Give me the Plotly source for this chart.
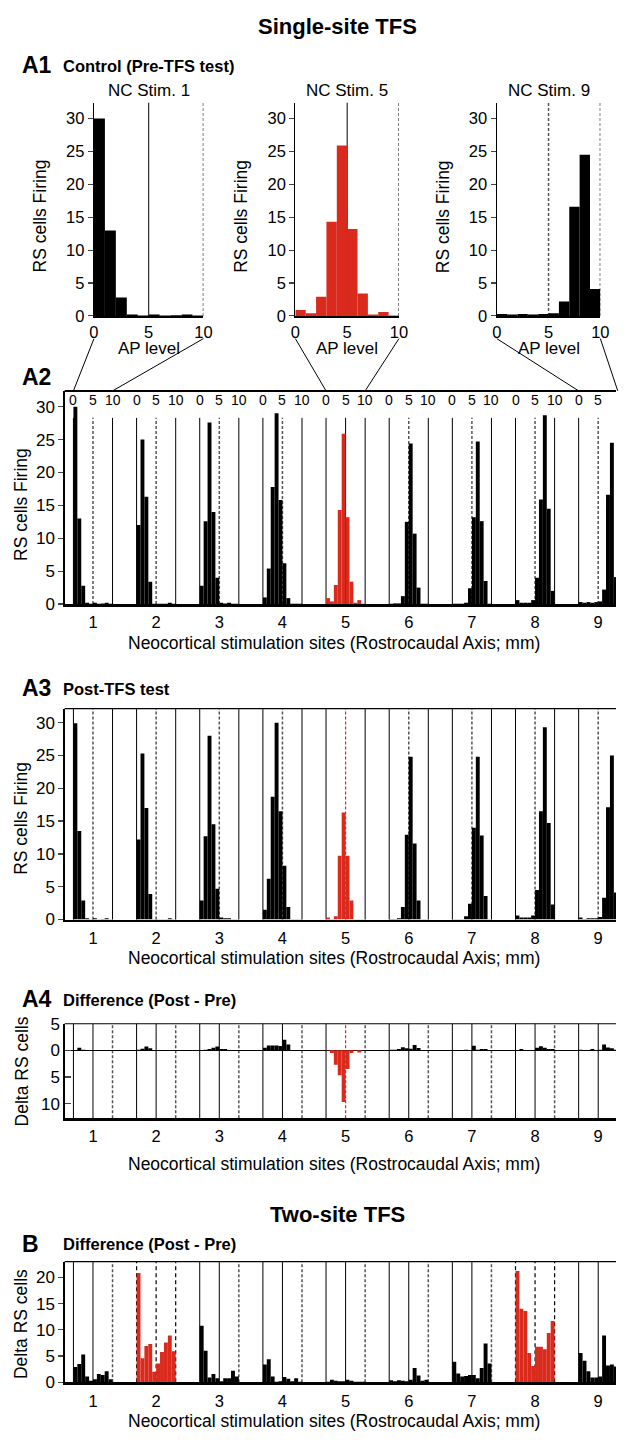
import plotly.graph_objects as go

W, H = 625, 1441

# ---------------- data ----------------
sites = [1, 2, 3, 4, 5, 6, 7, 8, 9]
ap_bins = [0.5, 1.5, 2.5, 3.5, 4.5, 5.5, 6.5, 7.5, 8.5, 9.5]
site_spacing = 16.15          # AP-level units between successive stimulation sites
site_labels = ["1", "2", "3", "4", "5", "6", "7", "8", "9"]
ap_ticks = [0, 5, 10]
ap_ticktext = ["0", "5", "10"]

pre_tfs = [
    [30, 13, 2.8, 0.2, 0.05, 0.2, 0.05, 0.1, 0.2, 0.05],
    [12, 25, 16.3, 3.4, 0.05, 0.05, 0.05, 0.05, 0.2, 0.05],
    [2.8, 12.6, 27.6, 14, 4, 0.2, 0.1, 0.2, 0.05, 0.05],
    [1, 5.4, 17.8, 29, 15.8, 6.2, 0.9, 0.05, 0.05, 0.05],
    [0.9, 0.4, 2.9, 14.3, 25.9, 13.2, 3.4, 0.2, 0.6, 0.05],
    [0.05, 0.1, 0.1, 1.2, 12.5, 24.4, 10.7, 2.5, 0.05, 0.05],
    [0.05, 0.05, 0.05, 0.2, 2.4, 13.2, 24.7, 12.6, 3.5, 0.05],
    [0.6, 0.2, 0.2, 0.2, 0.6, 4, 15.9, 28.7, 14.5, 2],
    [0.3, 0.2, 0.3, 0.2, 0.3, 0.4, 2.2, 16.6, 24.5, 4.1],
]
post_tfs = [
    [29.9, 13.5, 2.9, 0.2, 0.05, 0.2, 0.05, 0.1, 0.2, 0.05],
    [12.2, 25.3, 17, 3.9, 0.05, 0.05, 0.05, 0.05, 0.2, 0.05],
    [2.9, 12.7, 28, 14.5, 4.7, 0.3, 0.2, 0.2, 0.05, 0.05],
    [1.5, 6.2, 18.7, 30, 16.5, 8.2, 1.9, 0.05, 0.05, 0.05],
    [0.3, 0.1, 0.5, 9.7, 16.3, 9.7, 2.9, 0.05, 0.05, 0.05],
    [0.1, 0.1, 0.2, 1.9, 12.9, 24.8, 11.6, 2.9, 0.05, 0.05],
    [0.05, 0.05, 0.05, 0.5, 2.4, 14, 24.8, 12.8, 3.6, 0.05],
    [0.6, 0.3, 0.3, 0.3, 0.6, 4.5, 16.5, 29.3, 14.7, 2.3],
    [0.3, 0.1, 0.2, 0.2, 0.2, 0.4, 3.3, 17.1, 25, 4.1],
]
diff_single = [
    [0.05, 0.5, 0.1, 0, 0, 0, 0, 0, 0, 0],
    [0.1, 0.3, 0.7, 0.4, 0, 0, 0, 0, 0, 0],
    [0, 0.1, 0.25, 0.5, 0.7, 0.25, 0.25, 0, 0, 0],
    [0.5, 0.9, 0.9, 0.9, 0.8, 2.0, 1.1, 0, 0, 0],
    [-0.1, -0.5, -2.7, -4.7, -9.7, -3.5, -0.5, -0.1, -0.4, 0],
    [0.1, 0.1, 0.25, 0.6, 0.4, 0.3, 1.0, 0.45, 0, 0],
    [0, 0, 0, 0.1, 0.05, 0.85, 0.1, 0.25, 0.25, 0],
    [0, 0.25, 0.05, 0.05, 0.05, 0.5, 0.75, 0.5, 0.25, 0.25],
    [0.1, 0.05, 0, 0.25, 0.05, 0.1, 1.1, 0.55, 0.4, 0.1],
]
diff_two = [
    [2.9, 3.5, 5.3, 1.1, 0.3, 0.6, 1.6, 1.4, 2.1, 0.6],
    [20.8, 4.6, 6.9, 7.3, 2.0, 3.6, 5.8, 7.6, 8.9, 5.9],
    [10.8, 6.0, 0.9, 1.6, 0.8, 0.2, 0.8, 0.8, 2.2, 1.1],
    [3.4, 4.4, 1.1, 0.1, 0.2, 1.0, 0.7, 0.2, 0.8, 0.1],
    [0.1, 0.5, 0.3, 0.2, 0.2, 0.5, 0.3, 0.1, 0.1, 0.1],
    [0.4, 0.2, 0.4, 0.3, 0.2, 0.5, 2.75, 1.3, 0.3, 0.5],
    [3.9, 1.7, 1.1, 1.2, 1.4, 1.4, 0.8, 2.75, 7.4, 3.6],
    [21.2, 14.0, 13.6, 5.6, 3.1, 6.8, 6.8, 6.3, 9.4, 11.7],
    [5.6, 4.1, 2.1, 0.9, 0.9, 1.1, 8.9, 3.2, 3.4, 3.0],
]

single_tfs_site = 5
two_tfs_sites = [2, 8]
a1_sites = [1, 5, 9]
firing_ticks = [0, 5, 10, 15, 20, 25, 30]
delta_ticks = [5, 0, -5, -10]
delta_ticktext = ["5", "0", "5", "10"]
two_ticks = [0, 5, 10, 15, 20]

# ---------------- style ----------------
RED = "#da2a1d"
BLACK = "#000000"
DASHGRAY = "#555555"
FONT = "Liberation Sans, Arial, Helvetica, sans-serif"


def fx(p):
    return p / W


def fy(p):
    return 1 - p / H


def site_x(s, a):
    return (s - 1) * site_spacing + a


fig = go.Figure()

# ---------------- A1 small panels ----------------
a1_dom = [(91, 203), (297, 403), (503, 609)]
for i, s in enumerate(a1_sites):
    n = "" if i == 0 else str(i + 1)
    color = RED if s == single_tfs_site else BLACK
    fig.add_trace(go.Bar(x=ap_bins, y=pre_tfs[s - 1], width=1.0,
                         marker=dict(color=color, line=dict(width=0)),
                         xaxis="x" + n, yaxis="y" + n, hoverinfo="skip"))

# ---------------- long panels ----------------
long_x = []
for s in sites:
    for a in ap_bins:
        long_x.append(site_x(s, a))


def flat(rows):
    out = []
    for r in rows:
        out.extend(r)
    return out


def colors_for(red_sites):
    out = []
    for s in sites:
        out.extend([RED if s in red_sites else BLACK] * len(ap_bins))
    return out


fig.add_trace(go.Bar(x=long_x, y=flat(pre_tfs), width=1.0,
                     marker=dict(color=colors_for([single_tfs_site]), line=dict(width=0)),
                     xaxis="x4", yaxis="y4", hoverinfo="skip"))
fig.add_trace(go.Bar(x=long_x, y=flat(post_tfs), width=1.0,
                     marker=dict(color=colors_for([single_tfs_site]), line=dict(width=0)),
                     xaxis="x5", yaxis="y5", hoverinfo="skip"))
fig.add_trace(go.Bar(x=long_x, y=flat(diff_single), width=1.0,
                     marker=dict(color=colors_for([single_tfs_site]), line=dict(width=0)),
                     xaxis="x6", yaxis="y6", hoverinfo="skip"))
fig.add_trace(go.Bar(x=long_x, y=flat(diff_two), width=1.0,
                     marker=dict(color=colors_for(two_tfs_sites), line=dict(width=0)),
                     xaxis="x7", yaxis="y7", hoverinfo="skip"))

# ---------------- axes ----------------
tickfont = dict(family=FONT, size=17, color="black")
site_tickfont = dict(family=FONT, size=16.5, color="black")
a1_tickfont = dict(family=FONT, size=16.5, color="black")
layout = dict(
    width=W, height=H, margin=dict(l=0, r=0, t=0, b=0, pad=0),
    paper_bgcolor="white", plot_bgcolor="rgba(0,0,0,0)",
    showlegend=False, barmode="overlay", font=dict(family=FONT, color="black"),
)

for i in range(3):
    n = "" if i == 0 else str(i + 1)
    x0, x1 = a1_dom[i]
    layout["xaxis" + n] = dict(domain=[fx(x0), fx(x1)], range=[0, 10], anchor="y" + n,
                               tickvals=ap_ticks, ticktext=ap_ticktext, ticks="",
                               showline=True, linewidth=2.5, linecolor=BLACK,
                               showgrid=False, zeroline=False, tickfont=a1_tickfont)
    layout["yaxis" + n] = dict(domain=[fy(311), fy(95)], range=[0, 32.4], anchor="x" + n,
                               tickvals=firing_ticks, ticks="outside", ticklen=5, tickwidth=1.2,
                               showline=True, linewidth=1.2, linecolor=BLACK,
                               showgrid=False, zeroline=False, tickfont=a1_tickfont)

long_range = [-2.25, 138.75]
site_centers = [site_x(s, 5) for s in sites]
long_dom = [fx(61), 1.0]
panel_y = {4: (387, 603, [0, 32.4]), 5: (709, 922.7, [0, 32.13]),
           6: (1028.3, 1124, [-12.75, 5]), 7: (1269.3, 1391.7, [0, 23])}
for k, (top, bot, yr) in panel_y.items():
    layout["xaxis%d" % k] = dict(domain=long_dom, range=long_range, anchor="y%d" % k,
                                 tickvals=site_centers, ticktext=site_labels,
                                 ticks="outside", ticklen=2, tickcolor="rgba(0,0,0,0)",
                                 showline=True, linewidth=2.5, linecolor=BLACK,
                                 showgrid=False, zeroline=False, tickfont=site_tickfont)
    ya = dict(domain=[fy(bot), fy(top)], range=yr, anchor="x%d" % k,
              ticks="outside", ticklen=5, tickwidth=1.2,
              showline=True, linewidth=1.2, linecolor=BLACK,
              showgrid=False, zeroline=False, tickfont=tickfont)
    if k in (4, 5):
        ya["tickvals"] = firing_ticks
    elif k == 6:
        ya.update(tickvals=delta_ticks, ticktext=delta_ticktext, ticks="inside", ticklen=6,
                  zeroline=True, zerolinecolor=BLACK, zerolinewidth=1)
    else:
        ya["tickvals"] = two_ticks
    layout["yaxis%d" % k] = ya

fig.update_layout(**layout)

# ---------------- shapes ----------------
shapes = []
STY = {
    "solid": dict(color=BLACK, width=1),
    "dash": dict(color=DASHGRAY, width=1.5, dash="3px,2px"),
    "reddash": dict(color=RED, width=1.2, dash="3px,2px"),
    "blackdash": dict(color=BLACK, width=1.2, dash="4px,3px"),
}


def vline(xr, yr, x, y0, y1, sty):
    shapes.append(dict(type="line", xref=xr, yref=yr, x0=x, x1=x, y0=y0, y1=y1,
                       line=STY[sty], layer="below"))


# A1 panel reference lines
a1_styles = [("solid", "dash"), ("solid", "dash"), ("dash", "dash")]
for i in range(3):
    n = "" if i == 0 else str(i + 1)
    vline("x" + n, "y" + n + " domain", 5, 0, 1, a1_styles[i][0])
    vline("x" + n, "y" + n + " domain", 10, 0, 1, a1_styles[i][1])

for s in sites:
    # A2
    st = ["solid", "solid" if s == single_tfs_site else "dash", "solid"]
    for a, sty in zip(ap_ticks, st):
        vline("x4", "y4", site_x(s, a), 0, 28.3, sty)
    # A3
    st = ["solid", "reddash" if s == single_tfs_site else "dash", "solid"]
    for a, sty in zip(ap_ticks, st):
        vline("x5", "y5 domain", site_x(s, a), 0, 1, sty)
    # A4
    st = ["solid", "reddash" if s == single_tfs_site else "solid", "dash"]
    for a, sty in zip(ap_ticks, st):
        vline("x6", "y6 domain", site_x(s, a), 0, 1, sty)
    # B
    if s in two_tfs_sites:
        st = ["blackdash", "blackdash", "blackdash"]
    else:
        st = ["solid", "solid", "dash"]
    for a, sty in zip(ap_ticks, st):
        vline("x7", "y7 domain", site_x(s, a), 0, 1, sty)

# top borders: thick AP-scale line on A2, thin borders on A3, A4, B
shapes.append(dict(type="line", xref="x4 domain", yref="y4 domain",
                   x0=0, x1=1, y0=1, y1=1, line=dict(color=BLACK, width=2)))
for k in (5, 6, 7):
    shapes.append(dict(type="line", xref="x%d domain" % k, yref="y%d domain" % k,
                       x0=0, x1=1, y0=1, y1=1, line=dict(color=BLACK, width=1.2)))


# connector lines from A1 panels to their site in A2
def a2_px(s, a):
    return 61 + (site_x(s, a) - long_range[0]) / (long_range[1] - long_range[0]) * (W - 61)


for i, s in enumerate(a1_sites):
    x0, x1 = a1_dom[i]
    for a, p in ((0, x0), (10, x1)):
        shapes.append(dict(type="line", xref="paper", yref="paper",
                           x0=fx(p), y0=fy(334), x1=fx(a2_px(s, a)), y1=fy(387),
                           line=dict(color=BLACK, width=1)))

fig.update_layout(shapes=shapes)

# ---------------- annotations ----------------
anns = []


def ann(text, x, y, size, bold=False, xanchor="center", angle=0, xref="paper"):
    anns.append(dict(text="<b>%s</b>" % text if bold else text,
                     x=fx(x) if xref == "paper" else x, y=fy(y),
                     xref=xref, yref="paper", showarrow=False, xanchor=xanchor,
                     yanchor="middle", textangle=angle,
                     font=dict(family=FONT, size=size, color="black")))


ann("Single-site TFS", 340, 18, 22, bold=True)
ann("A1", 15, 57, 23, bold=True, xanchor="left")
ann("Control (Pre-TFS test)", 57, 58, 16.5, bold=True, xanchor="left")
for i, s in enumerate(a1_sites):
    x0, x1 = a1_dom[i]
    ann("NC Stim. %d" % s, (x0 + x1) / 2, 83, 17)
    ann("AP level", (x0 + x1) / 2, 344, 17)
    ann("RS cells Firing", x0 - 55, 210, 17.5, angle=-90)

# AP-level tick labels along the top of A2
for s in sites:
    for a, t in zip(ap_ticks, ap_ticktext):
        if site_x(s, a) <= long_range[1]:
            ann(t, site_x(s, a), 396, 14, xref="x4")

ann("A2", 15, 373, 23, bold=True, xanchor="left")
ann("RS cells Firing", 17, 502, 17.5, angle=-90)
xlab = "Neocortical stimulation sites (Rostrocaudal Axis; mm)"
ann(xlab, 337, 642, 17.5)

ann("A3", 15, 688, 23, bold=True, xanchor="left")
ann("Post-TFS test", 57, 689, 16.5, bold=True, xanchor="left")
ann("RS cells Firing", 17, 820, 17.5, angle=-90)
ann(xlab, 337, 962, 17.5)

ann("A4", 15, 1003, 23, bold=True, xanchor="left")
ann("Difference (Post - Pre)", 57, 1004, 16.5, bold=True, xanchor="left")
ann("Delta RS cells", 17, 1077, 17.5, angle=-90)
ann(xlab, 337, 1170, 17.5)

ann("Two-site TFS", 340, 1222, 22, bold=True)
ann("B", 15, 1252, 23, bold=True, xanchor="left")
ann("Difference (Post - Pre)", 57, 1252, 16.5, bold=True, xanchor="left")
ann("Delta RS cells", 17, 1333, 17.5, angle=-90)
ann(xlab, 337, 1431, 17.5)

fig.update_layout(annotations=anns)
fig.write_html(
    "out.html",
    config=dict(displayModeBar=False, staticPlot=True),
    post_script=(
        "var d=document.getElementById('{plot_id}');"
        "d.style.position='fixed';d.style.left='0px';d.style.top='0px';"
        "document.body.style.margin='0';document.body.style.padding='0';"
        "document.body.style.overflow='hidden';"
        "document.documentElement.style.overflow='hidden';"
    ),
)
